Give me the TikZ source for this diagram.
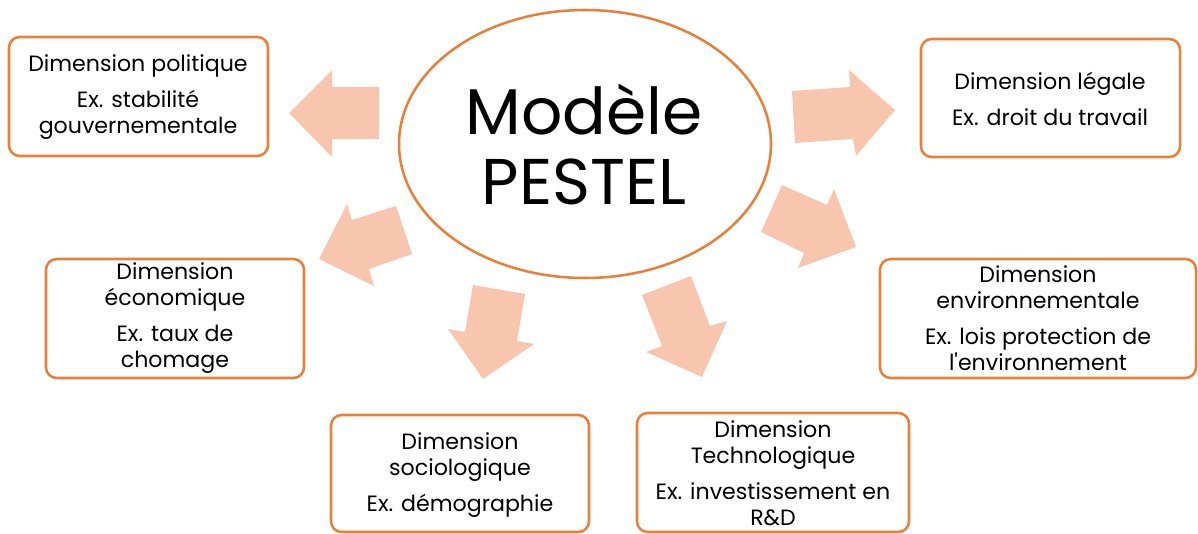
\documentclass[tikz,border=0pt]{standalone}
\usepackage{fontspec}
\newfontfamily\popfont{Poppins}
\definecolor{boxorange}{HTML}{E8803A}
\definecolor{arrowfill}{HTML}{F8C6AE}
\begin{document}
\begin{tikzpicture}[x=0.75pt,y=-0.75pt,
  dimbox/.style={draw=boxorange, line width=1.9pt, rounded corners=8pt, fill=white},
  dimtext/.style={align=center, font=\popfont\fontsize{16.6}{19.5}\selectfont, inner sep=0pt},
  blockarrow/.style={fill=arrowfill, draw=none}]
\useasboundingbox (0,0) rectangle (1198,534);
% centre ellipse
\draw[boxorange, line width=1.9pt] (585,144) ellipse [x radius=186, y radius=134];
\node[align=center, font=\popfont\fontsize{48.5}{52.5}\selectfont, inner sep=0pt] (title) at (584,144) {Modèle\\PESTEL};
% block arrows
\fill[blockarrow] (379,87) -- (332,87) -- (332,70) -- (289,113) -- (332,157) -- (332,139) -- (379,139) -- cycle;
\fill[blockarrow] (396,206) -- (352,220) -- (347,204) -- (319,259) -- (374,286) -- (369,269) -- (412,254) -- cycle;
\fill[blockarrow] (473,285) -- (525,294) -- (517,341) -- (534,344) -- (483,379) -- (448,329) -- (465,332) -- cycle;
\fill[blockarrow] (642,295) -- (691,276) -- (710,326) -- (727,321) -- (702,377) -- (646,352) -- (662,346) -- cycle;
\fill[blockarrow] (782,185) -- (827,205) -- (834,189) -- (856,247) -- (798,268) -- (804,253) -- (761,232) -- cycle;
\fill[blockarrow] (792,91) -- (850,87) -- (849,70) -- (895,110) -- (856,156) -- (853,139) -- (795,143) -- cycle;
% boxes
\draw[dimbox] (9,37) rectangle (268,156);
\draw[dimbox] (921,39) rectangle (1180,157);
\draw[dimbox] (46,259) rectangle (304,378);
\draw[dimbox] (880,259) rectangle (1196,378);
\draw[dimbox] (331,415) rectangle (589,532);
\draw[dimbox] (637,413) rectangle (909,532);
% texts
\node[dimtext] (pol) at (138,97) {Dimension politique\\[7.5pt]Ex. stabilité\\gouvernementale};
\node[dimtext] (leg) at (1050,99) {Dimension légale\\[7.5pt]Ex. droit du travail};
\node[dimtext] (eco) at (175,318) {Dimension\\économique\\[7.5pt]Ex. taux de\\chomage};
\node[dimtext] (env) at (1038,318) {Dimension\\environnementale\\[7.5pt]Ex. lois protection de\\l'environnement};
\node[dimtext] (soc) at (460,475) {Dimension\\sociologique\\[7.5pt]Ex. démographie};
\node[dimtext] (tec) at (773,473) {Dimension\\Technologique\\[7.5pt]Ex. investissement en\\R\&D};
\end{tikzpicture}
\end{document}
